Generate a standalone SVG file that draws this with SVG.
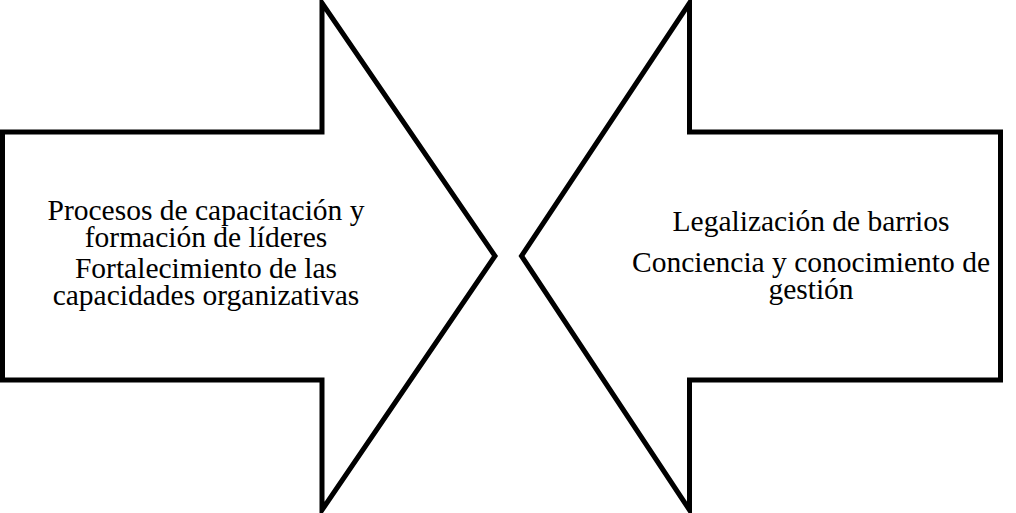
<svg xmlns="http://www.w3.org/2000/svg" width="1016" height="513" viewBox="0 0 1016 513">
<style>
.arrow{fill:#fff;stroke:#000;stroke-width:5;stroke-linejoin:miter;stroke-miterlimit:10}
.t{font-family:'Liberation Serif','Times New Roman','DejaVu Serif',serif;font-size:29.5px;fill:#000;text-anchor:middle}
</style>
<rect width="1016" height="513" fill="#fff"/>
<g id="left-arrow">
<polygon class="arrow" points="2.5,132 322,132 322,3 495,256 322,510 322,380 2.5,380"/>
<text class="t" x="206" y="220">Procesos de capacitación y</text>
<text class="t" x="206" y="247">formación de líderes</text>
<text class="t" x="206" y="278">Fortalecimiento de las</text>
<text class="t" x="206" y="305">capacidades organizativas</text>
</g>
<g id="right-arrow">
<polygon class="arrow" points="1000.5,132 689.5,132 689.5,3 521.5,256 689.5,510 689.5,380 1000.5,380"/>
<text class="t" x="811" y="231">Legalización de barrios</text>
<text class="t" x="811" y="272">Conciencia y conocimiento de</text>
<text class="t" x="811" y="299">gestión</text>
</g>
<g id="connectors"></g>
</svg>
